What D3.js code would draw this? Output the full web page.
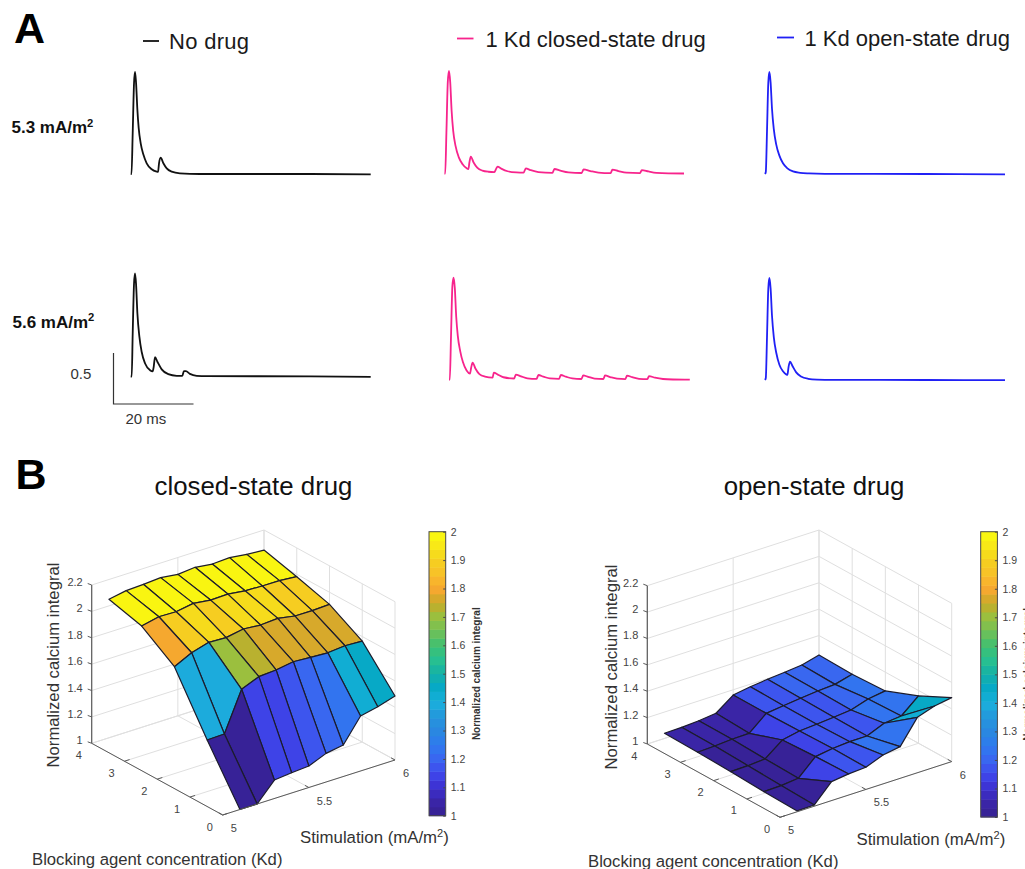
<!DOCTYPE html>
<html>
<head>
<meta charset="utf-8">
<style>
  html, body { margin: 0; padding: 0; background: #fff; overflow: hidden; }
  svg { display: block; font-family: "Liberation Sans", Arial, sans-serif; }
</style>
<script src="https://cdnjs.cloudflare.com/ajax/libs/d3/7.8.5/d3.min.js"></script>
</head>
<body>
<div id="chart"></div>
<script>
// traces: [time in ms, normalized calcium]
const noDrugLow = [[0,0],[0.2,0],[0.5,0.4],[0.83,0.89],[1.08,1],[1.33,0.9],[1.67,0.63],[2,0.45],[2.5,0.3],[3.17,0.19],[4,0.105],[5.25,0.046],[6.5,0.023],[6.83,0.02],[7.08,0.105],[7.5,0.16],[8.17,0.105],[9,0.055],[10.25,0.023],[12.3,0.007],[17.3,0],[45,0],[60,-0.003]];
const noDrugHigh = [[0,0],[0.25,0],[0.5,0.42],[0.83,0.91],[1.08,1.01],[1.33,0.91],[1.67,0.62],[2.17,0.39],[2.75,0.24],[3.6,0.127],[4.83,0.062],[5.5,0.05],[5.75,0.095],[6.08,0.19],[6.67,0.145],[7.75,0.07],[9.4,0.023],[11.5,0.007],[12.9,0.006],[13.3,0.052],[13.8,0.052],[14.8,0.026],[16.5,0.007],[19,0.003],[45,0.002],[60,-0.003]];
const closedLow = [[0,0],[0.2,0],[0.5,0.4],[0.85,0.9],[1.15,1.007],[1.45,0.9],[1.8,0.62],[2.2,0.42],[2.8,0.27],[3.6,0.16],[4.6,0.09],[5.5,0.055],[6,0.046],[6.25,0.11],[6.6,0.167],[7.3,0.11],[8.2,0.06],[9.5,0.03],[11,0.019],[12.5,0.016],[12.9,0.045],[13.3,0.069],[14.2,0.05],[15.8,0.024],[18,0.012],[19.8,0.01],[20.35,0.052],[21.5,0.036],[23.5,0.016],[27,0.008],[27.5,0.046],[29,0.03],[31,0.013],[34.3,0.007],[34.8,0.042],[36.5,0.026],[38.5,0.011],[41.55,0.006],[42,0.04],[43.5,0.026],[45.5,0.01],[48.9,0.006],[49.35,0.036],[51,0.022],[53,0.008],[56,0.003],[59.9,0.002]];
const closedHigh = [[0,0],[0.2,0],[0.5,0.42],[0.85,0.92],[1.15,1],[1.45,0.9],[1.8,0.62],[2.2,0.43],[2.8,0.28],[3.5,0.17],[4.4,0.09],[5.25,0.06],[5.55,0.12],[5.9,0.167],[6.6,0.11],[7.6,0.055],[9,0.03],[10.9,0.02],[11.2,0.069],[12.2,0.05],[13.6,0.024],[16.3,0.012],[16.7,0.05],[18,0.033],[19.6,0.014],[21.9,0.009],[22.35,0.046],[23.6,0.03],[25.2,0.012],[27.5,0.008],[27.95,0.046],[29.2,0.03],[30.8,0.012],[33.1,0.007],[33.55,0.042],[34.8,0.028],[36.4,0.011],[38.6,0.007],[39,0.042],[40.3,0.026],[42,0.01],[44.1,0.006],[44.5,0.04],[45.8,0.025],[47.5,0.009],[49.6,0.005],[50,0.035],[51.5,0.02],[53.5,0.007],[56,0.002],[60.2,0]];
const openLow = [[0,0],[0.2,0.02],[0.5,0.42],[0.83,0.9],[1.1,1],[1.4,0.9],[1.75,0.64],[2.2,0.44],[2.8,0.29],[3.6,0.18],[4.5,0.105],[5.6,0.055],[7,0.025],[8.8,0.012],[11,0.006],[15,0.002],[40,0],[60,-0.004]];
const openHigh = [[0,0],[0.2,0.02],[0.5,0.42],[0.83,0.9],[1.1,1],[1.4,0.9],[1.75,0.63],[2.2,0.42],[2.8,0.27],[3.6,0.15],[4.5,0.085],[5.3,0.055],[5.6,0.05],[5.9,0.13],[6.25,0.18],[6.9,0.135],[7.8,0.075],[9,0.035],[10.8,0.012],[13,0.004],[17,0.001],[40,0],[60,-0.002]];

const stimValues = [5.1, 5.2, 5.3, 5.4, 5.5, 5.6, 5.7, 5.8, 5.9, 6];
const kdValues = [0, 1, 2, 3, 4];
const closedDrugZ = [
  [1.00, 1.00, 1.14, 1.154, 1.163, 1.217, 1.239, 1.417, 1.446, 1.485],
  [1.391, 1.395, 1.692, 1.746, 1.755, 1.776, 1.767, 1.76, 1.772, 1.765],
  [1.811, 1.875, 1.912, 1.906, 1.93, 1.918, 1.927, 1.903, 1.902, 1.908],
  [1.983, 2.012, 2.008, 2.03, 2.013, 2.017, 2.0, 1.995, 1.994, 1.982],
  [2.05, 2.074, 2.08, 2.089, 2.072, 2.084, 2.067, 2.074, 2.057, 2.048]
];
const openDrugZ = [
  [1.006, 1.009, 1.144, 1.16, 1.168, 1.219, 1.24, 1.42, 1.464, 1.485],
  [1.013, 1.017, 1.03, 1.152, 1.171, 1.181, 1.182, 1.236, 1.249, 1.359],
  [1.026, 1.029, 1.038, 1.139, 1.165, 1.174, 1.185, 1.198, 1.239, 1.258],
  [1.034, 1.039, 1.048, 1.051, 1.16, 1.176, 1.19, 1.203, 1.211, 1.245],
  [1.039, 1.042, 1.05, 1.064, 1.16, 1.181, 1.195, 1.206, 1.219, 1.253]
];

const zTicks = [1, 1.2, 1.4, 1.6, 1.8, 2, 2.2];
const kdTicks = [0, 1, 2, 3, 4];
const stimTicks = [5, 5.5, 6];
const barTicks = [1, 1.1, 1.2, 1.3, 1.4, 1.5, 1.6, 1.7, 1.8, 1.9, 2];

const colorValues = [1, 1.05, 1.1, 1.15, 1.2, 1.25, 1.3, 1.35, 1.4, 1.45, 1.5, 1.55, 1.6, 1.65, 1.7, 1.75, 1.8, 1.85, 1.9, 1.95, 2];
const colorStops = ["#35218f", "#3a25a8", "#3c2fd0", "#3f48ec", "#3a66f0", "#2f7aee", "#2a88e0", "#2496dc", "#1ab0dc", "#06a8c8", "#14b0a8", "#28c08f", "#40c070", "#70c058", "#98c040", "#c8aa28", "#f8a830", "#f8c028", "#f5d020", "#f8e818", "#f9fb0e"];

const ramp = d3.scaleLinear().domain(colorValues).range(colorStops);
const colormap = d3.scaleQuantize().domain([1, 2])
  .range(d3.range(32).map(i => ramp(1 + (i + 0.5) / 32)));

const svg = d3.select("#chart").append("svg")
  .attr("width", 1025).attr("height", 869)
  .style("background-color", "white");

function addText(str, x, y, size, opts = {}) {
  return svg.append("text")
    .attr("x", x).attr("y", y)
    .attr("font-size", size)
    .attr("font-weight", opts.weight || "normal")
    .attr("fill", opts.fill || "#111")
    .attr("letter-spacing", opts.spacing || null)
    .attr("text-anchor", opts.anchor || "start")
    .text(str);
}

// unit label with a raised 2
function addSquared(str, x, y, size, opts = {}) {
  const t = addText(str, x, y, size, opts);
  t.append("tspan").attr("dy", -size * 0.38).attr("font-size", size * 0.66).text("2");
  t.append("tspan").attr("dy", size * 0.38).text(opts.tail || "");
  return t;
}

class Trace {
  constructor(opts) {
    this.data = opts.data;
    this.left = opts.left;
    this.base = opts.base;
    this.color = opts.color;
    this.draw();
  }

  draw() {
    const x = d3.scaleLinear().domain([0, 60]).range([this.left, this.left + 240]);
    const y = d3.scaleLinear().domain([0, 1]).range([this.base, this.base - 102]);
    const line = d3.line().x(d => x(d[0])).y(d => y(d[1])).curve(d3.curveMonotoneX);
    svg.append("path")
      .attr("d", line(this.data))
      .attr("fill", "none")
      .attr("stroke", this.color)
      .attr("stroke-width", 1.8)
      .attr("stroke-linejoin", "round");
  }
}

class Surface {
  constructor(opts) {
    this.z = opts.z;
    this.ox = opts.ox;
    this.oy = opts.oy;
    this.stimVec = opts.stimVec;
    this.kdVec = opts.kdVec;
    this.zLen = opts.zLen;
    this.draw();
  }

  draw() {
    const sx = d3.scaleLinear().domain([5, 6]).range([0, this.stimVec[0]]);
    const sy = d3.scaleLinear().domain([5, 6]).range([0, this.stimVec[1]]);
    const kx = d3.scaleLinear().domain([0, 4]).range([0, this.kdVec[0]]);
    const ky = d3.scaleLinear().domain([0, 4]).range([0, this.kdVec[1]]);
    const zy = d3.scaleLinear().domain([1, 2.2]).range([0, -this.zLen]);
    this.project = (s, k, z) => [this.ox + sx(s) + kx(k), this.oy + sy(s) + ky(k) + zy(z)];

    this.drawGrid();
    this.drawMesh();
    this.drawAxes();
  }

  drawGrid() {
    const p = this.project;
    const segs = [];
    zTicks.forEach(z => {
      segs.push([p(5, 4, z), p(6, 4, z), p(6, 0, z)]);
    });
    stimTicks.forEach(s => {
      segs.push([p(s, 0, 1), p(s, 4, 1), p(s, 4, 2.2)]);
    });
    kdTicks.forEach(k => {
      segs.push([p(5, k, 1), p(6, k, 1), p(6, k, 2.2)]);
    });
    svg.append("g").selectAll("path").data(segs).enter().append("path")
      .attr("d", d3.line())
      .attr("fill", "none")
      .attr("stroke", "#dfdfdf")
      .attr("stroke-width", 1);
  }

  drawMesh() {
    const p = this.project;
    const cells = [];
    // back corner first so nearer cells paint over
    for (let r = kdValues.length - 2; r >= 0; r--) {
      for (let c = stimValues.length - 2; c >= 0; c--) {
        cells.push({
          value: this.z[r][c],
          pts: [
            p(stimValues[c], kdValues[r], this.z[r][c]),
            p(stimValues[c + 1], kdValues[r], this.z[r][c + 1]),
            p(stimValues[c + 1], kdValues[r + 1], this.z[r + 1][c + 1]),
            p(stimValues[c], kdValues[r + 1], this.z[r + 1][c])
          ]
        });
      }
    }
    svg.append("g").selectAll("path").data(cells).enter().append("path")
      .attr("d", d => d3.line()(d.pts) + "Z")
      .attr("fill", d => colormap(Math.min(d.value, 2)))
      .attr("stroke", "#1c1c2c")
      .attr("stroke-width", 1.2)
      .attr("stroke-linejoin", "round");
  }

  drawAxes() {
    const p = this.project;
    const axes = svg.append("g").attr("fill", "none").attr("stroke", "#5a5a5a");
    const line = d3.line();
    axes.append("path").attr("d", line([p(5, 4, 1), p(5, 4, 2.2)])).attr("stroke-width", 1.2);
    axes.append("path").attr("d", line([p(5, 4, 1), p(5, 0, 1)]));
    axes.append("path").attr("d", line([p(5, 0, 1), p(6, 0, 1)]));

    zTicks.forEach(z => {
      const a = p(5, 4, z);
      axes.append("path").attr("d", line([a, [a[0] - 4, a[1] - 1.5]]));
      addText(z, a[0] - 9, a[1] - 3 + 4, 11, { fill: "#444", anchor: "end" });
    });
    kdTicks.forEach(k => {
      const a = p(5, k, 1);
      if (k < 4) axes.append("path").attr("d", line([a, p(5.03, k, 1)]));
      addText(k, a[0] - 13, a[1] + 15.5, 11, { fill: "#444", anchor: "middle" });
    });
    stimTicks.forEach(s => {
      const a = p(s, 0, 1);
      axes.append("path").attr("d", line([a, p(s, 0.12, 1)]));
      addText(s, a[0] + 8, a[1] + 17, 11, { fill: "#444" });
    });
  }
}

class ColorBar {
  constructor(opts) {
    this.left = opts.left;
    this.top = opts.top;
    this.bottom = opts.bottom;
    this.width = opts.width;
    this.draw();
  }

  draw() {
    const y = d3.scaleLinear().domain([1, 2]).range([this.bottom, this.top]);
    svg.append("g").selectAll("rect").data(colormap.range()).enter().append("rect")
      .attr("x", this.left)
      .attr("width", this.width)
      .attr("y", d => y(colormap.invertExtent(d)[1]))
      .attr("height", d => y(colormap.invertExtent(d)[0]) - y(colormap.invertExtent(d)[1]) + 0.5)
      .attr("fill", d => d);
    svg.append("rect")
      .attr("x", this.left).attr("y", this.top)
      .attr("width", this.width).attr("height", this.bottom - this.top)
      .attr("fill", "none").attr("stroke", "#4a4a4a").attr("stroke-width", 1);
    const axis = d3.axisRight(y).tickValues(barTicks).tickSize(-2.5).tickPadding(5)
      .tickFormat(d => d);
    const g = svg.append("g")
      .attr("transform", `translate(${this.left + this.width},0)`)
      .call(axis);
    g.select(".domain").remove();
    g.selectAll("line").attr("stroke", "#4a4a4a");
    g.selectAll("text").attr("font-size", 10.5).attr("fill", "#444")
      .attr("font-family", "'Liberation Sans', Arial, sans-serif");
    svg.append("text")
      .attr("transform", `translate(${this.left + 50.5},${(this.top + this.bottom) / 2}) rotate(-90)`)
      .attr("text-anchor", "middle")
      .attr("font-size", 10)
      .attr("font-weight", "bold")
      .attr("fill", "#333")
      .text("Normalized calcium integral");
  }
}

// panel A
addText("A", 14, 43, 43, { weight: "bold", fill: "#000" });
addText("B", 15.5, 489, 43, { weight: "bold", fill: "#000" });

const legends = [
  { label: "No drug", color: "#111", x1: 143, x2: 159, y: 41, tx: 169, ty: 49, sp: 0.3 },
  { label: "1 Kd closed-state drug", color: "#f7248c", x1: 457, x2: 473.5, y: 38.5, tx: 485.5, ty: 46.5, sp: 0 },
  { label: "1 Kd open-state drug", color: "#2020f5", x1: 777, x2: 794, y: 37.5, tx: 804.5, ty: 45.5, sp: 0 }
];
legends.forEach(d => {
  svg.append("line").attr("x1", d.x1).attr("x2", d.x2).attr("y1", d.y).attr("y2", d.y)
    .attr("stroke", d.color).attr("stroke-width", 1.8);
  addText(d.label, d.tx, d.ty, 22, { spacing: d.sp, fill: "#1a1a1a" });
});

addSquared("5.3 mA/m", 11.5, 133, 17, { weight: "bold", fill: "#111" });
addSquared("5.6 mA/m", 12.5, 327.5, 17, { weight: "bold", fill: "#111" });

new Trace({ data: noDrugLow, left: 130.7, base: 174, color: "#111" });
new Trace({ data: noDrugHigh, left: 130.7, base: 376.5, color: "#111" });
new Trace({ data: closedLow, left: 444.4, base: 173.7, color: "#f7248c" });
new Trace({ data: closedHigh, left: 449, base: 379.7, color: "#f7248c" });
new Trace({ data: openLow, left: 765, base: 174, color: "#2020f5" });
new Trace({ data: openHigh, left: 765, base: 380, color: "#2020f5" });

// scale bar, same units as the traces
const barX = d3.scaleLinear().domain([0, 20]).range([113.5, 193.5]);
const barY = d3.scaleLinear().domain([0, 0.5]).range([404, 353]);
svg.append("path")
  .attr("d", d3.line()([[barX(0), barY(0.5)], [barX(0), barY(0)], [barX(20), barY(0)]]))
  .attr("fill", "none").attr("stroke", "#333").attr("stroke-width", 1.2);
addText("0.5", 70.5, 379, 15, { fill: "#333" });
addText("20 ms", 125.5, 424, 15, { fill: "#333" });

// panel B
addText("closed-state drug", 253.5, 495, 25.8, { anchor: "middle", fill: "#111" });
addText("open-state drug", 814, 494.5, 25.8, { anchor: "middle", fill: "#111" });

new Surface({ z: closedDrugZ, ox: 222.7, oy: 815, stimVec: [172.3, -55], kdVec: [-131, -71.7], zLen: 158.3 });
new Surface({ z: openDrugZ, ox: 780, oy: 817.3, stimVec: [171.7, -55.7], kdVec: [-132.7, -73.3], zLen: 158.3 });

new ColorBar({ left: 429, top: 531.7, bottom: 815.7, width: 16.7 });
new ColorBar({ left: 980.7, top: 531.7, bottom: 817, width: 16.7 });

[[59, 665], [617, 667]].forEach(c => {
  svg.append("text")
    .attr("transform", `translate(${c[0]},${c[1]}) rotate(-90)`)
    .attr("text-anchor", "middle")
    .attr("font-size", 16.7)
    .attr("fill", "#333")
    .text("Normalized calcium integral");
});

addSquared("Stimulation (mA/m", 300, 843, 16.8, { fill: "#333", tail: ")" });
addSquared("Stimulation (mA/m", 856.5, 845, 16.8, { fill: "#333", tail: ")" });
addText("Blocking agent concentration (Kd)", 32, 865, 16.7, { fill: "#333" });
addText("Blocking agent concentration (Kd)", 588, 866.5, 16.7, { fill: "#333" });
</script>
</body>
</html>
